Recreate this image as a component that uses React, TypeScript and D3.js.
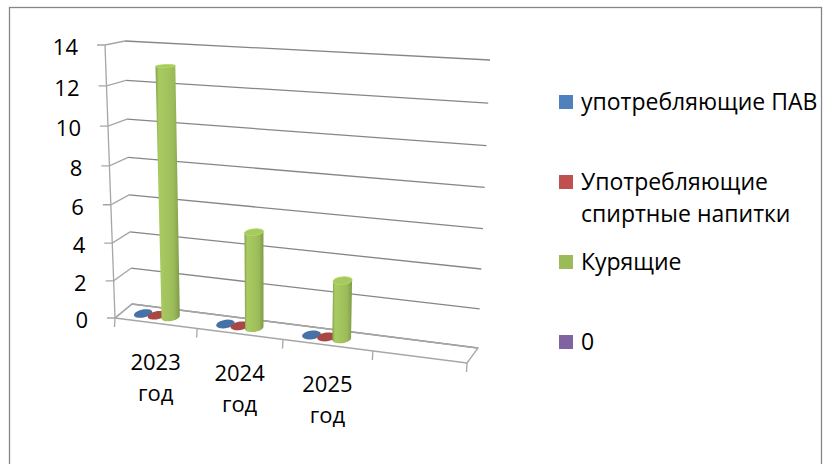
import React from "react";
import * as d3 from "d3";

// ---------- data ----------
const categories = ["2023 год", "2024 год", "2025 год", ""];
const seriesNames = ["употребляющие ПАВ", "Употребляющие спиртные напитки", "Курящие", "0"];
const seriesColors = ["#4F81BD", "#C0504D", "#9BBB59", "#8064A2"];
const usingPAV: (number | null)[] = [0, 0, 0, null];
const usingAlcohol: (number | null)[] = [0, 0, 0, null];
const smokers: (number | null)[] = [13, 5, 3, null];
const zeroSeries: (number | null)[] = [null, null, null, null];
const yTicks = [0, 2, 4, 6, 8, 10, 12, 14];
const legendLines = [["употребляющие ПАВ"], ["Употребляющие", "спиртные напитки"], ["Курящие"], ["0"]];

const seriesValues = [usingPAV, usingAlcohol, smokers, zeroSeries];

// ---------- layout (3D box corners on screen) ----------
type P = [number, number];
const FLB: P = [115, 318];
const FRB: P = [467, 363];
const BLB: P = [132, 304];
const BRB: P = [478, 348];
const FLT: P = [105, 45];
const FRT: P = [479, 64];
const BLT: P = [125, 41];
const BRT: P = [490, 60];
const KU = 0.913;
const KV = 0.945;

const persp = (t: number, k: number) => (k * t) / (1 - t * (1 - k));
const lerp = (p: P, q: P, t: number): P => [p[0] + (q[0] - p[0]) * t, p[1] + (q[1] - p[1]) * t];

function project(u: number, v: number, w: number): P {
  const a = persp(u, KU);
  const b = persp(v, KV);
  const fb = lerp(FLB, FRB, a);
  const ft = lerp(FLT, FRT, a);
  const bb = lerp(BLB, BRB, a);
  const bt = lerp(BLT, BRT, a);
  const f = lerp(fb, ft, b);
  const bk = lerp(bb, bt, b);
  return lerp(f, bk, w);
}

const yScale = d3.scaleLinear().domain([0, 14]).range([0, 1]);
const xBand = d3.scaleBand<number>().domain(d3.range(categories.length)).range([0, 1]);
const bw = xBand.bandwidth();
const sBand = d3.scaleBand<number>().domain(d3.range(seriesNames.length)).range([-0.34 * bw, 0.34 * bw]);
const ru = 0.095 * bw;
const rw = 0.3;
const wc = 0.5;

const line = d3.line<P>();
const closed = (pts: P[]) => line(pts) + "Z";

const FONT = "'Open Sans', 'Noto Sans', sans-serif";

export default function App() {
  const cyl: JSX.Element[] = [];
  const defs: JSX.Element[] = [];
  categories.forEach((_, ci) => {
    seriesValues.forEach((vals, si) => {
      const v = vals[ci];
      if (v === null || v === undefined) return;
      const uc = (xBand(ci) as number) + bw / 2 + (sBand(si) as number) + sBand.bandwidth() / 2;
      const n = 60;
      const bottom: P[] = [];
      const top: P[] = [];
      for (let k = 0; k < n; k++) {
        const th = (k / n) * Math.PI * 2;
        const uu = uc + ru * Math.cos(th);
        const ww = wc + rw * Math.sin(th);
        bottom.push(project(uu, 0, ww));
        top.push(project(uu, yScale(v), ww));
      }
      const base = d3.color(seriesColors[si])!;
      const id = `g${ci}_${si}`;
      if (v > 0) {
        defs.push(
          <linearGradient key={id} id={id} x1="0" x2="1" y1="0" y2="0">
            <stop offset="0%" stopColor={base.darker(0.45).formatHex()} />
            <stop offset="14%" stopColor={base.brighter(0.25).formatHex()} />
            <stop offset="40%" stopColor={base.brighter(0.15).formatHex()} />
            <stop offset="75%" stopColor={base.formatHex()} />
            <stop offset="100%" stopColor={base.darker(0.55).formatHex()} />
          </linearGradient>
        );
        const hull = d3.polygonHull([...bottom, ...top]) as P[];
        cyl.push(<path key={id + "b"} d={closed(hull)} fill={`url(#${id})`} />);
        cyl.push(
          <path key={id + "t"} d={closed(top)} fill={base.brighter(0.2).formatHex()} stroke={base.brighter(0.5).formatHex()} strokeWidth={0.8} />
        );
      } else {
        cyl.push(<path key={id + "d"} d={closed(top)} fill={base.darker(0.35).formatHex()} />);
      }
    });
  });

  const grid = yTicks.map((t) => {
    const f = project(0, yScale(t), 0);
    const b = project(0, yScale(t), 1);
    const r = project(1, yScale(t), 1);
    return (
      <g key={"gr" + t}>
        <path d={line([[f[0] - 8, f[1]], f, b])!} stroke="#a6a6a6" strokeWidth={1.3} fill="none" />
        <path d={line([b, r])!} stroke="#868686" strokeWidth={1.3} fill="none" />
        <text x={f[0] - 27} y={f[1] + 2} dy="0.36em" textAnchor="end" fontFamily={FONT} fontSize={22} fill="#000">
          {t}
        </text>
      </g>
    );
  });

  const floor = [project(0, 0, 0), project(1, 0, 0), project(1, 0, 1), project(0, 0, 1)];
  const xTicks = d3.range(categories.length + 1).map((i) => {
    const p = project(i * bw, 0, 0);
    return <line key={"xt" + i} x1={p[0]} y1={p[1]} x2={p[0] - 0.5} y2={p[1] + 9} stroke="#a6a6a6" strokeWidth={1.3} />;
  });
  const fAxis = [project(0, 0, 0), project(0, 1, 0)];

  const catLabels = categories.map((c, i) => {
    if (!c) return null;
    const p = project((xBand(i) as number) + bw / 2, 0, 0);
    const parts = c.split(" ");
    return (
      <text key={"cl" + i} x={p[0]} y={p[1] + 47} textAnchor="middle" fontFamily={FONT} fontSize={22} fill="#000">
        {parts.map((s, k) => (
          <tspan key={k} x={p[0]} dy={k === 0 ? 0 : 31}>
            {s}
          </tspan>
        ))}
      </text>
    );
  });

  const legendTop = 95;
  const legendStep = 80;
  const legend = seriesNames.map((_, i) => {
    const y0 = legendTop + i * legendStep;
    return (
      <g key={"lg" + i}>
        <rect x={559} y={y0} width={14} height={14} fill={seriesColors[i]} />
        <text x={581} y={y0 + 7} fontFamily={FONT} fontSize={23} fill="#000">
          {legendLines[i].map((s, k) => (
            <tspan key={k} x={581} dy={k === 0 ? "0.36em" : 32}>
              {s}
            </tspan>
          ))}
        </text>
      </g>
    );
  });

  return (
    <svg width={830} height={464} style={{ position: "absolute", left: 0, top: 0, background: "#fff" }}>
      <defs>{defs}</defs>
      <rect x={9.5} y={7.5} width={812} height={470} fill="#fff" stroke="#868686" strokeWidth={1.3} />
      {grid}
      <path d={closed(floor)} fill="none" stroke="#a6a6a6" strokeWidth={1.3} />
      <path d={line(fAxis)!} stroke="#a6a6a6" strokeWidth={1.3} fill="none" />
      {xTicks}
      {cyl}
      {catLabels}
      {legend}
    </svg>
  );
}
